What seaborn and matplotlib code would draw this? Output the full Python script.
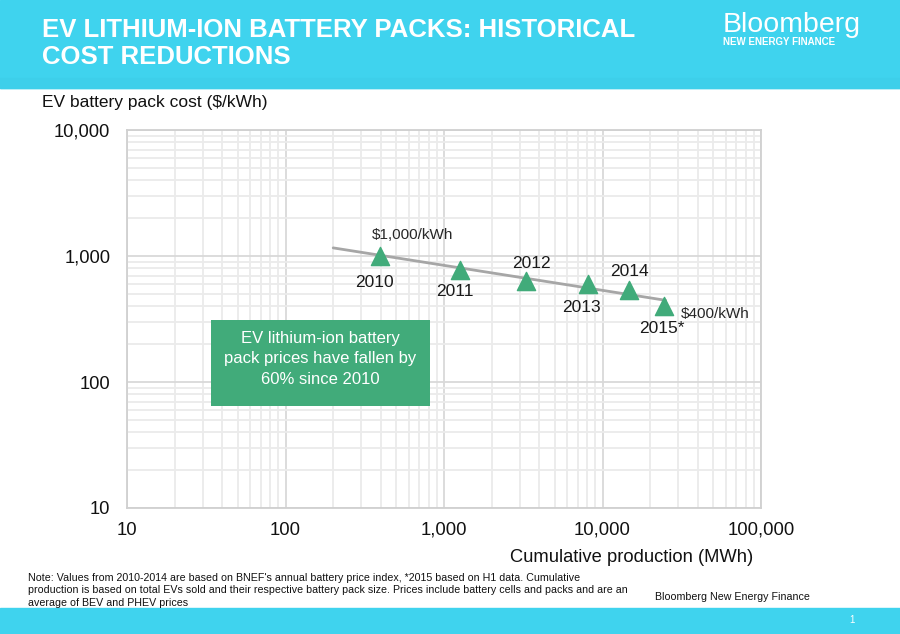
import matplotlib
matplotlib.use("Agg")
import matplotlib.pyplot as plt
import matplotlib.patches as mpatches
import seaborn as sns
import pandas as pd

# data
years = ["2010", "2011", "2012", "2013", "2014", "2015*"]
cum_production = [395, 1260, 3300, 8100, 14800, 24600]   # MWh
pack_cost = [1000, 775, 630, 600, 540, 400]             # $/kWh
trend_x = [200, 25000]
trend_y = [1160, 445]
x_ticks = [10, 100, 1000, 10000, 100000]
y_ticks = [10, 100, 1000, 10000]

# label offsets in pixels (dx, dy)
label_offsets = [(-6, -26), (-5, -22), (5, 18), (-7, -24), (0, 18), (-3, -22)]

sns.set_style("white")
plt.rcParams["font.family"] = ["Liberation Sans", "DejaVu Sans"]

CYAN = "#3fd3ee"
GREEN = "#41ab7a"

df = pd.DataFrame({"year": years, "prod": cum_production, "cost": pack_cost})
trend = pd.DataFrame({"x": trend_x, "y": trend_y})

fig = plt.figure(figsize=(9, 6.34), dpi=100)
fig.patch.set_facecolor("white")

# header / footer bands
fig.add_artist(mpatches.Rectangle((0, 1 - 88 / 634), 1, 88 / 634, transform=fig.transFigure,
                                  color=CYAN, zorder=0))
fig.add_artist(mpatches.Rectangle((0, 1 - 88 / 634), 1, 10 / 634, transform=fig.transFigure,
                                  color="#3dcfea", zorder=0))
fig.add_artist(mpatches.Rectangle((0, 0), 1, 26 / 634, transform=fig.transFigure,
                                  color=CYAN, zorder=0))

fig.text(42 / 900, 1 - 18 / 634, "EV LITHIUM-ION BATTERY PACKS: HISTORICAL\nCOST REDUCTIONS",
         color="white", fontsize=18.5, fontweight="bold", va="top", ha="left",
         linespacing=1.15, family=["Liberation Sans Narrow", "Liberation Sans"])
fig.text(723 / 900, 1 - 25 / 634, "Bloomberg", color="white", fontsize=20.5,
         ha="left", va="center")
fig.text(723 / 900, 1 - 42 / 634, "NEW ENERGY FINANCE", color="white", fontsize=7,
         fontweight="bold", ha="left", va="center")

ax = fig.add_axes([127 / 900, 1 - 508 / 634, 634 / 900, 378 / 634])
ax.set_xscale("log")
ax.set_yscale("log")
ax.set_xlim(10, 100000)
ax.set_ylim(10, 10000)

sns.lineplot(data=trend, x="x", y="y", ax=ax, color="#a6a6a6", linewidth=2, zorder=3)
sns.scatterplot(data=df, x="prod", y="cost", ax=ax, marker="^", s=170, color=GREEN,
                edgecolor=GREEN, zorder=4, legend=False)

for yr, xv, yv, (dx, dy) in zip(years, cum_production, pack_cost, label_offsets):
    ax.annotate(yr, (xv, yv), xytext=(dx, dy), textcoords="offset pixels",
                ha="center", va="center", fontsize=12.5, color="#1a1a1a")
ax.annotate("$1,000/kWh", (cum_production[0], pack_cost[0]), xytext=(32, 21),
            textcoords="offset pixels", ha="center", va="center", fontsize=11)
ax.annotate("$400/kWh", (cum_production[-1], pack_cost[-1]), xytext=(51, -8),
            textcoords="offset pixels", ha="center", va="center", fontsize=11)

# callout box
fig.add_artist(mpatches.Rectangle((211 / 900, 1 - 406 / 634), 219 / 900, 86 / 634,
                                  transform=fig.transFigure, facecolor=GREEN,
                                  edgecolor="none", zorder=5))
fig.text(320 / 900, 1 - 359 / 634, "EV lithium-ion battery\npack prices have fallen by\n60% since 2010",
         color="white", fontsize=12, ha="center", va="center", linespacing=1.45, zorder=6)

ax.set_xticks(x_ticks)
ax.set_xticklabels([f"{v:,}" for v in x_ticks])
ax.set_yticks(y_ticks)
ax.set_yticklabels([f"{v:,}" for v in y_ticks])
ax.tick_params(axis="both", which="both", length=0, colors="#111111")
ax.tick_params(axis="x", pad=10, labelsize=13.3)
ax.tick_params(axis="y", pad=12, labelsize=13.2)
ax.grid(True, which="major", color="#d9d9d9", linewidth=1.3)
ax.grid(True, which="minor", color="#ebebeb", linewidth=1.3)
for s in ax.spines.values():
    s.set_color("#d0d0d0")
    s.set_linewidth(1.3)
ax.set_xlabel("")
ax.set_ylabel("")

fig.text(42 / 900, 1 - 103 / 634, "EV battery pack cost ($/kWh)", fontsize=12.5, va="center",
         ha="left", color="#111111")
fig.text(753 / 900, 1 - 557 / 634, "Cumulative production (MWh)", fontsize=13.2, va="center",
         ha="right", color="#111111")

fig.text(28 / 900, 1 - 573 / 634,
         "Note: Values from 2010-2014 are based on BNEF's annual battery price index, *2015 based on H1 data. Cumulative\n"
         "production is based on total EVs sold and their respective battery pack size. Prices include battery cells and packs and are an\n"
         "average of BEV and PHEV prices",
         fontsize=7.7, va="top", ha="left", linespacing=1.3, color="#111111", zorder=3)
fig.text(732 / 900, 1 - 597 / 634, "Bloomberg New Energy Finance", fontsize=7.7, va="center",
         ha="center", color="#111111")
fig.text(852 / 900, 1 - 620 / 634, "1", fontsize=7, color="white", ha="center", va="center")

fig.savefig("out.png", dpi=100)
